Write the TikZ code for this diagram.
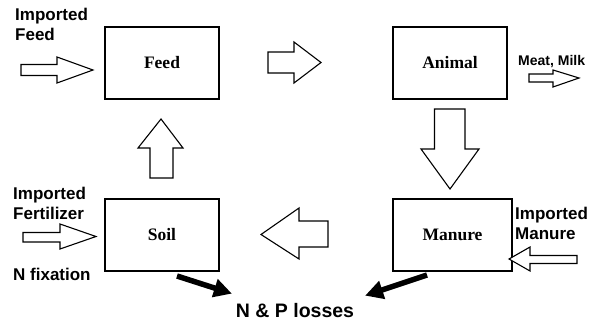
\documentclass[tikz,border=0pt]{standalone}
\usepackage{fontspec}
\setmainfont{Liberation Serif}
\setsansfont{Liberation Sans}
\usetikzlibrary{arrows.meta}
\begin{document}
\begin{tikzpicture}[x=1pt,y=-1pt,
  stockbox/.style={draw,line width=1.3pt,inner sep=0pt,font=\fontsize{17.5}{20}\selectfont\bfseries},
  sidelabel/.style={inner sep=0pt,align=left,font=\sffamily\bfseries\fontsize{17}{20}\selectfont},
  blockarrow/.style={draw,line width=1.1pt,fill=white,line join=miter},
  lossarrow/.style={line width=5.5pt,-{Triangle[length=18pt,width=18pt]},shorten >=-2pt}]
\useasboundingbox (0,0) rectangle (593,324);
% boxes
\node[stockbox,minimum width=114pt,minimum height=72pt] (feed) at (162,63) {Feed};
\node[stockbox,minimum width=114pt,minimum height=72pt] (animal) at (450,63) {Animal};
\node[stockbox,minimum width=114pt,minimum height=72pt] (soil) at (162,235) {Soil};
\node[stockbox,minimum width=119pt,minimum height=72pt] (manure) at (452.5,235) {Manure};
% side labels
\node[sidelabel,anchor=north west] (impfeed) at (15,8.3) {Imported\\Feed};
\node[sidelabel,anchor=north west] (impfert) at (13,186.7) {Imported\\Fertilizer};
\node[sidelabel,anchor=north west] (impman) at (515,206.7) {Imported\\Manure};
\node[sidelabel,anchor=base west] (nfix) at (13,280) {N fixation};
\node[inner sep=0pt,anchor=base west,font=\sffamily\bfseries\fontsize{14}{16}\selectfont] (meat) at (518,65) {Meat, Milk};
\node[inner sep=0pt,anchor=base,font=\sffamily\bfseries\fontsize{19.5}{22}\selectfont] (losses) at (295,317) {N \& P losses};
% block arrows
% imported feed -> feed
\draw[blockarrow] (21,64.5) -- (57,64.5) -- (57,57) -- (93,70) -- (57,83) -- (57,75.5) -- (21,75.5) -- cycle;
% feed -> animal
\draw[blockarrow] (268,52) -- (294,52) -- (294,42) -- (321,62.5) -- (294,83) -- (294,73) -- (268,73) -- cycle;
% animal -> meat, milk
\draw[blockarrow] (529,74) -- (553,74) -- (553,70) -- (579,78) -- (553,87) -- (553,82) -- (529,82) -- cycle;
% animal -> manure
\draw[blockarrow] (434.5,109) -- (465,109) -- (465,149) -- (479,149) -- (450,189) -- (421,149) -- (434.5,149) -- cycle;
% manure -> soil
\draw[blockarrow] (328,221) -- (299,221) -- (299,208) -- (261,234.5) -- (299,259) -- (299,247) -- (328,247) -- cycle;
% soil -> feed
\draw[blockarrow] (150,178) -- (150,148) -- (138,148) -- (161,119) -- (183,148) -- (173,148) -- (173,178) -- cycle;
% imported fertilizer -> soil
\draw[blockarrow] (23,232.5) -- (60,232.5) -- (60,224) -- (96,236.5) -- (60,249) -- (60,242) -- (23,242) -- cycle;
% imported manure -> manure
\draw[blockarrow] (577,255.5) -- (530,255.5) -- (530,247) -- (509,259) -- (530,271) -- (530,263.5) -- (577,263.5) -- cycle;
% losses
\coordinate (soilloss) at (177,276);
\coordinate (soiltip) at (230,293);
\coordinate (manloss) at (427,275);
\coordinate (mantip) at (367,295);
\draw[lossarrow] (soilloss) -- (soiltip);
\draw[lossarrow] (manloss) -- (mantip);
\end{tikzpicture}
\end{document}
